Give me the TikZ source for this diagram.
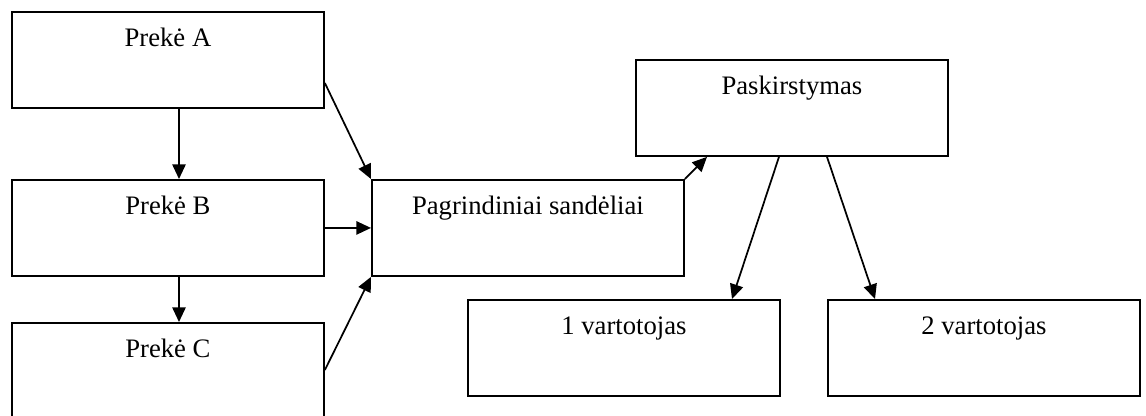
\documentclass[tikz,border=0pt]{standalone}
\usepackage{fontspec}
\setmainfont{Liberation Serif}
\usetikzlibrary{arrows.meta,calc}

\begin{document}
\begin{tikzpicture}[x=0.75pt,y=-0.75pt,
  box/.style={draw, line width=1.4pt, minimum width=234pt, minimum height=72pt,
              inner sep=0pt, anchor=north west},
  lbl/.style={anchor=base, inner sep=0pt, font=\rmfamily\fontsize{20}{24}\selectfont},
  arr/.style={line width=1.3pt, -{Triangle[length=11pt,width=10pt]}}]
  \useasboundingbox (0,0) rectangle (1146,415);

  % boxes (top-left corners)
  \node[box] (a) at (11,11) {};
  \node[box] (b) at (11,179) {};
  \node[box] (c) at (11,322) {};
  \node[box] (s) at (371,179) {};
  \node[box] (p) at (635,59) {};
  \node[box] (v1) at (467,299) {};
  \node[box] (v2) at (827,299) {};

  % captions near the top of each box
  \node[lbl] (a-t) at ($(a.north)+(0,35)$) {Prekė A};
  \node[lbl] (b-t) at ($(b.north)+(0,35)$) {Prekė B};
  \node[lbl] (c-t) at ($(c.north)+(0,35)$) {Prekė C};
  \node[lbl] (s-t) at ($(s.north)+(0,35)$) {Pagrindiniai sandėliai};
  \node[lbl] (p-t) at ($(p.north)+(0,35)$) {Paskirstymas};
  \node[lbl] (v1-t) at ($(v1.north)+(0,35)$) {1 vartotojas};
  \node[lbl] (v2-t) at ($(v2.north)+(0,35)$) {2 vartotojas};

  % connectors
  \draw[arr] ($(a.south west)+(168,0)$) -- ($(b.north west)+(168,0)$);
  \draw[arr] ($(b.south west)+(168,0)$) -- ($(c.north west)+(168,0)$);
  \draw[arr] ($(a.north east)+(0,72)$) -- (s.north west);
  \draw[arr] (b.east) -- (s.west);
  \draw[arr] ($(c.north east)+(0,48)$) -- (s.south west);
  \draw[arr] (s.north east) -- ($(p.south west)+(72,0)$);
  \draw[arr] ($(p.south west)+(144,0)$) -- ($(v1.north west)+(265,0)$);
  \draw[arr] ($(p.south west)+(192,0)$) -- ($(v2.north west)+(48,0)$);
\end{tikzpicture}
\end{document}
